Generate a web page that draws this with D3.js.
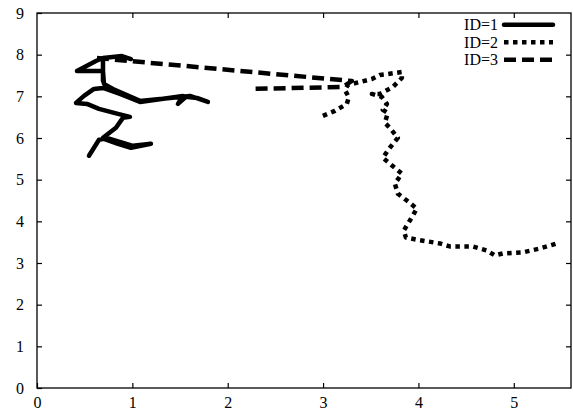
<!DOCTYPE html>
<html lang="en">
<head>
    <meta charset="UTF-8">
    <title>Trajectories</title>
    <style>
        body { margin: 0; background: #fff; }
        svg { display: block; }
        svg text { font-family: "Liberation Serif", "Times New Roman", Times, Tinos, "Nimbus Roman", serif !important; fill: #000; }
    </style>
</head>
<body>
    <div id="chart"></div>
    <script src="https://d3js.org/d3.v7.min.js"></script>
    <script>
        const width = 573;
        const height = 414;
        const margin = { top: 13, right: 2, bottom: 26, left: 37 };

        const xTicks = [0, 1, 2, 3, 4, 5];
        const yTicks = [0, 1, 2, 3, 4, 5, 6, 7, 8, 9];
        const seriesNames = ['ID=1', 'ID=2', 'ID=3'];

        // ID=1
        const id1X = [0.545, 0.650, 0.702, 0.849, 0.985, 1.090, 1.195, 1.006, 0.765, 0.692, 0.828, 0.901, 0.975, 0.849, 0.650, 0.524, 0.409, 0.493, 0.597, 0.692, 0.870, 1.080, 1.530, 1.478, 1.562, 1.677, 1.792, 1.604, 1.080, 0.797, 0.702, 0.692, 0.597, 0.419, 0.618, 0.692, 0.692, 0.692, 0.891, 0.985];
        const id1Y = [5.574, 5.957, 5.981, 5.861, 5.766, 5.813, 5.861, 5.813, 5.981, 6.005, 6.244, 6.483, 6.507, 6.579, 6.699, 6.818, 6.842, 7.010, 7.177, 7.201, 7.057, 6.866, 7.010, 6.818, 6.990, 6.962, 6.866, 7.010, 6.890, 7.177, 7.297, 7.608, 7.608, 7.608, 7.847, 7.919, 7.368, 7.919, 7.967, 7.895];

        // ID=2
        const id2X = [2.998, 3.124, 3.249, 3.270, 3.229, 3.260, 3.386, 3.512, 3.595, 3.679, 3.826, 3.826, 3.732, 3.595, 3.512, 3.616, 3.669, 3.627, 3.679, 3.648, 3.700, 3.784, 3.700, 3.627, 3.700, 3.826, 3.753, 3.784, 3.878, 3.983, 3.910, 3.847, 3.868, 3.973, 4.224, 4.329, 4.570, 4.717, 4.801, 4.885, 5.094, 5.273, 5.451];
        const id2Y = [6.531, 6.651, 6.818, 6.978, 7.153, 7.273, 7.344, 7.416, 7.512, 7.536, 7.584, 7.440, 7.225, 7.057, 7.057, 6.986, 6.818, 6.675, 6.603, 6.364, 6.244, 6.005, 5.766, 5.526, 5.383, 5.144, 4.904, 4.665, 4.498, 4.306, 4.019, 3.780, 3.612, 3.565, 3.469, 3.397, 3.397, 3.301, 3.182, 3.230, 3.254, 3.349, 3.469];

        // ID=3
        const id3X = [0.629, 3.302, 3.208, 2.233];
        const id3Y = [7.919, 7.368, 7.225, 7.177];

        const series = [
            { name: seriesNames[0], xs: id1X, ys: id1Y, dash: null, w: 4.5 },
            { name: seriesNames[1], xs: id2X, ys: id2Y, dash: '4.5,4.5', w: 4.5 },
            { name: seriesNames[2], xs: id3X, ys: id3Y, dash: '12,6', w: 4.5 }
        ];

        const svg = d3.select('#chart')
            .append('svg')
            .attr('width', width)
            .attr('height', height);

        const x = d3.scaleLinear()
            .domain([0, 5.6])
            .range([margin.left, width - margin.right]);
        const y = d3.scaleLinear()
            .domain([0, 9])
            .range([height - margin.bottom, margin.top]);

        // ticks on all four sides, pointing inward
        const tickLen = 5;
        svg.append('g')
            .attr('transform', `translate(0,${y(0)})`)
            .call(d3.axisBottom(x).tickValues(xTicks).tickSize(-tickLen).tickPadding(9).tickFormat(d3.format('d')))
            .call(g => g.select('.domain').remove());
        svg.append('g')
            .attr('transform', `translate(0,${y(9)})`)
            .call(d3.axisTop(x).tickValues(xTicks.slice(1)).tickSize(-tickLen).tickFormat(''))
            .call(g => g.select('.domain').remove());
        svg.append('g')
            .attr('transform', `translate(${x(0)},0)`)
            .call(d3.axisLeft(y).tickValues(yTicks).tickSize(-tickLen).tickPadding(13).tickFormat(d3.format('d')))
            .call(g => g.select('.domain').remove());
        svg.append('g')
            .attr('transform', `translate(${x(5.6)},0)`)
            .call(d3.axisRight(y).tickValues(yTicks.slice(1, -1)).tickSize(-tickLen).tickFormat(''))
            .call(g => g.select('.domain').remove());

        svg.selectAll('.tick line').attr('stroke', '#000').attr('stroke-width', 1.2);
        svg.selectAll('.tick text').attr('font-size', 16).attr('fill', '#000');

        // frame
        svg.append('rect')
            .attr('x', x(0))
            .attr('y', y(9))
            .attr('width', x(5.6) - x(0))
            .attr('height', y(0) - y(9))
            .attr('fill', 'none')
            .attr('stroke', '#000')
            .attr('stroke-width', 1.3);

        const line = d3.line()
            .x(d => x(d[0]))
            .y(d => y(d[1]));

        svg.append('g').selectAll('path')
            .data(series)
            .enter().append('path')
            .attr('d', s => line(s.xs.map((v, i) => [v, s.ys[i]])))
            .attr('fill', 'none')
            .attr('stroke', '#000')
            .attr('stroke-width', s => s.w)
            .attr('stroke-linejoin', 'round')
            .attr('stroke-linecap', s => s.dash ? 'butt' : 'round')
            .attr('stroke-dasharray', s => s.dash);

        // legend
        const legend = svg.append('g').selectAll('g')
            .data(series)
            .enter().append('g')
            .attr('transform', (d, i) => `translate(0,${24.7 + i * 17.5})`);
        legend.append('text')
            .attr('x', 498)
            .attr('y', 0)
            .attr('dy', '0.35em')
            .attr('text-anchor', 'end')
            .attr('font-size', 16)
            .text(d => d.name);
        legend.append('line')
            .attr('x1', 504)
            .attr('x2', 553)
            .attr('y1', 0)
            .attr('y2', 0)
            .attr('stroke', '#000')
            .attr('stroke-width', d => d.w)
            .attr('stroke-linecap', d => d.dash ? 'butt' : 'round')
            .attr('stroke-dasharray', d => d.dash);
    </script>
</body>
</html>
